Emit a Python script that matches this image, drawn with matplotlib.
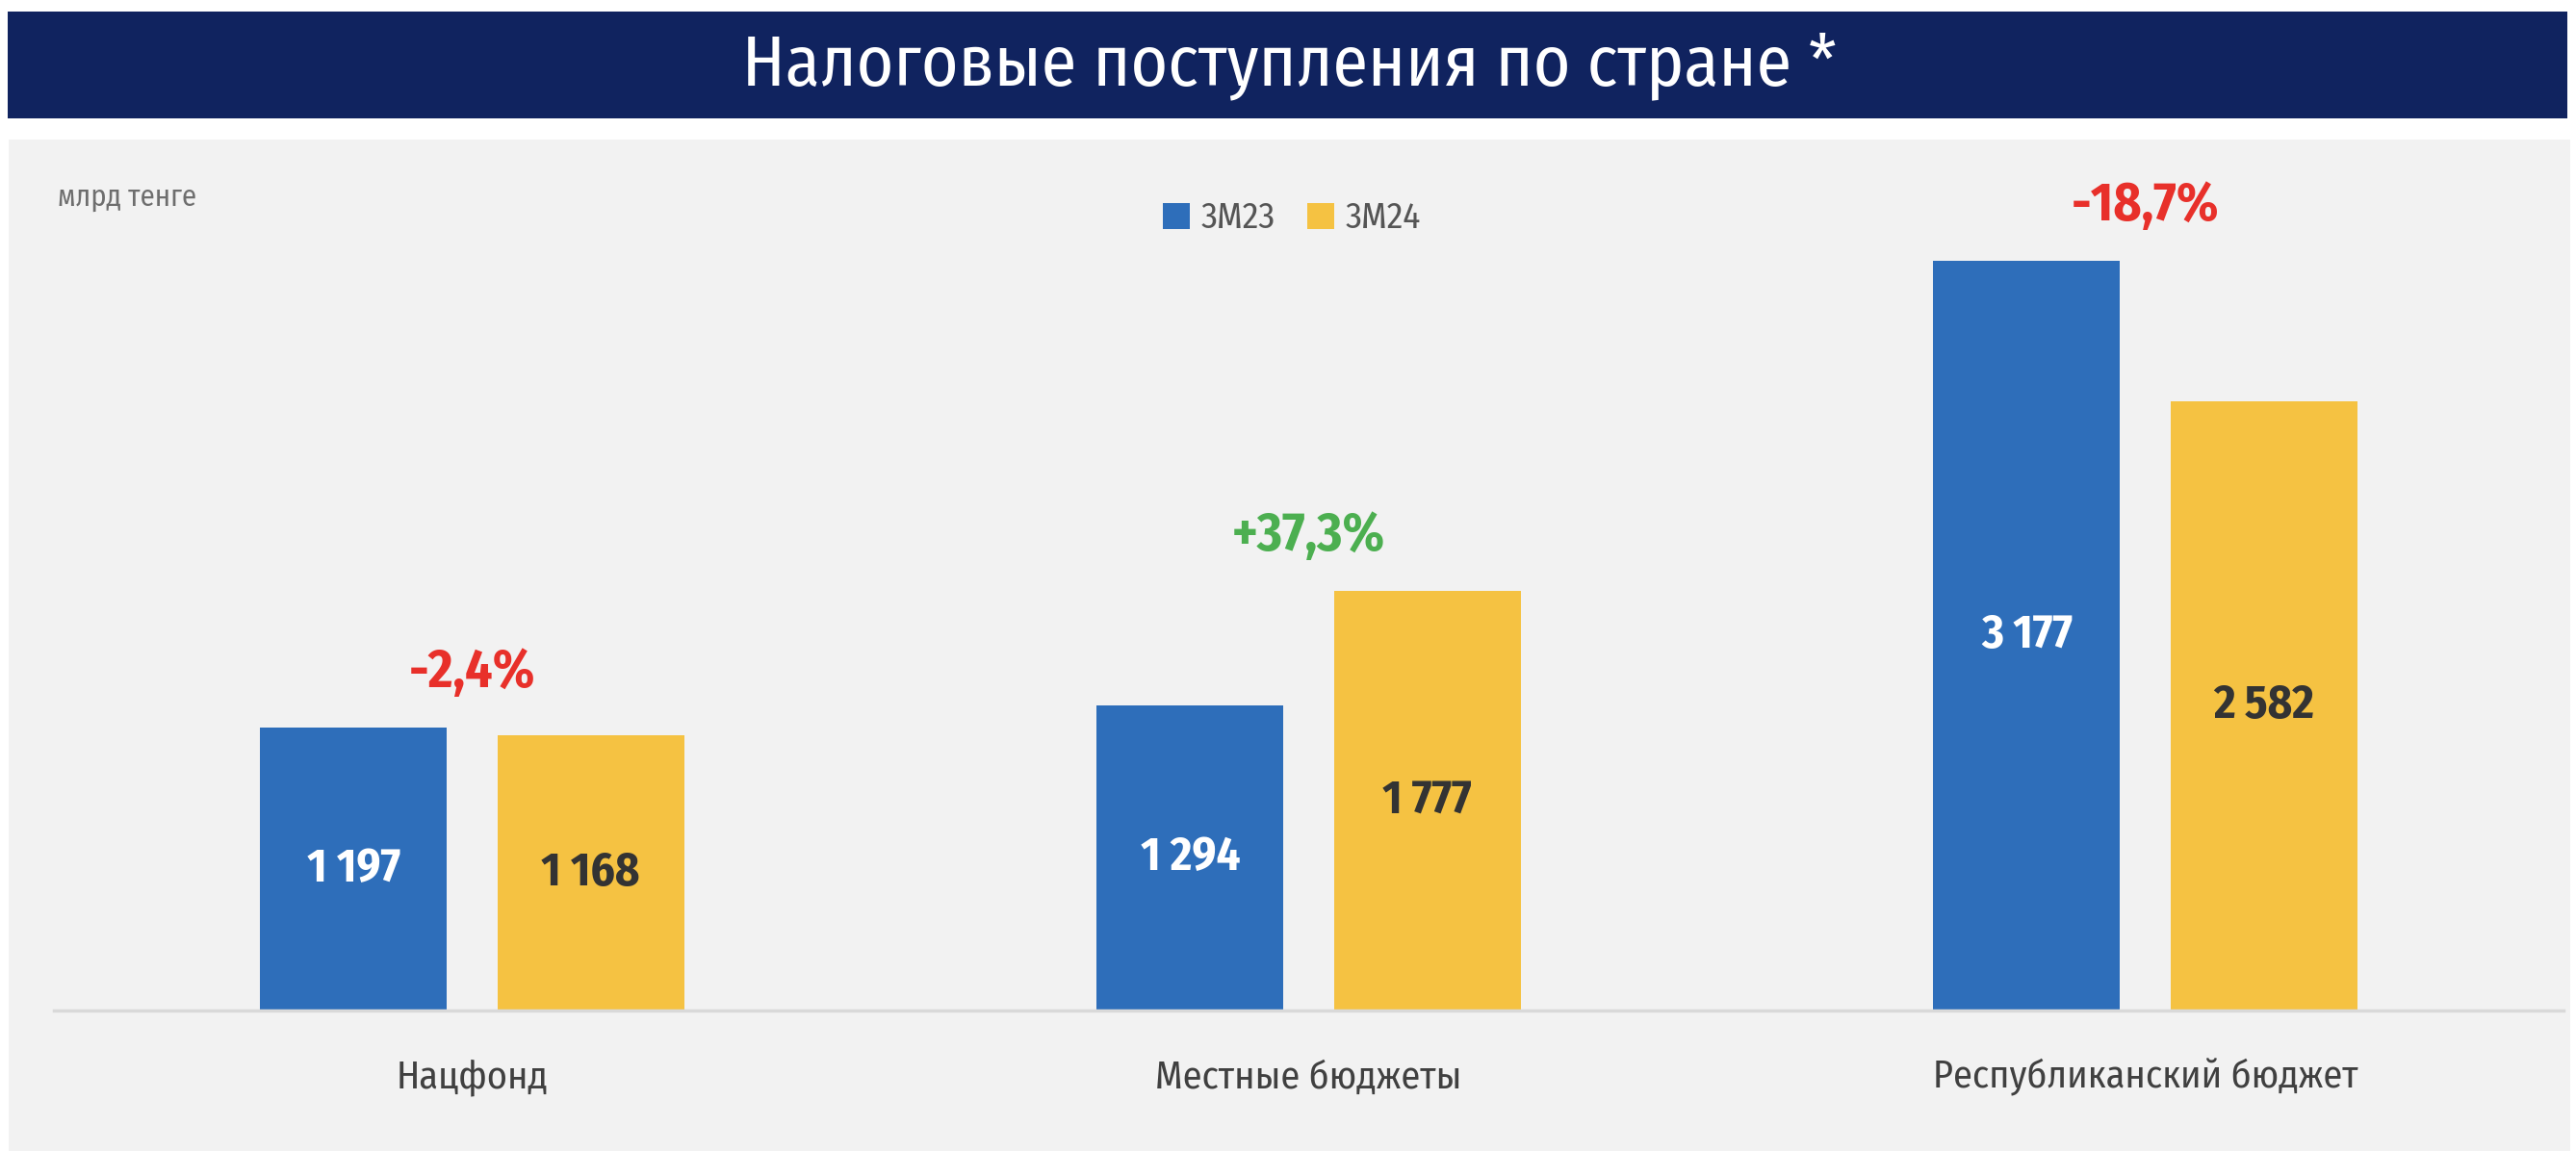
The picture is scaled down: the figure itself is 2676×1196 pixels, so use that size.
"""
Tax revenues by budget level, 3M23 vs 3M24 (bln tenge).
"""
import matplotlib
matplotlib.use('Agg')
import matplotlib.pyplot as plt
from matplotlib.patches import Rectangle
import numpy as np

plt.rcParams['font.family'] = ['Fira Sans Condensed', 'DejaVu Sans']

categories = ['Нацфонд', 'Местные бюджеты', 'Республиканский бюджет']
series_names = ['3M23', '3M24']
values_3m23 = [1197, 1294, 3177]
values_3m24 = [1168, 1777, 2582]
change_labels = ['-2,4%', '+37,3%', '-18,7%']
change_colors = ['#E8302A', '#4CAF50', '#E8302A']

title = 'Налоговые поступления по стране *'
unit_label = 'млрд тенге'

blue = '#2E6EBA'
yellow = '#F5C242'
panel_gray = '#F2F2F2'
navy = '#10235F'

W, H = 2676, 1196
fig = plt.figure(figsize=(W / 100, H / 100), dpi=100)
fig.patch.set_facecolor('white')

# background panel and title bar (below the axes)
fig.patches.append(Rectangle((9 / W, 0), 2661 / W, 1051 / H, transform=fig.transFigure,
                             facecolor=panel_gray, edgecolor='none', zorder=-2))
fig.patches.append(Rectangle((8 / W, 1 - 123 / H), 2659 / W, 111 / H, transform=fig.transFigure,
                             facecolor=navy, edgecolor='none', zorder=-2))
fig.text(0.5007, 1 - 68 / H, title, color='white', fontsize=53, ha='center', va='center')
fig.text(60 / W, 1 - 205 / H, unit_label, color='#6E6E6E', fontsize=22, ha='left', va='center')

ax = fig.add_axes([56 / W, 146 / H, 2607 / W, 870 / H])
ax.set_facecolor('none')

x = np.arange(len(categories))
width = 0.2235
offset = 0.1417
bars1 = ax.bar(x - offset, values_3m23, width, color=blue, label=series_names[0], zorder=2)
bars2 = ax.bar(x + offset, values_3m24, width, color=yellow, label=series_names[1], zorder=2)

ax.set_xlim(-0.5, 2.5)
ax.set_ylim(0, 3548)

for b, v in zip(bars1, values_3m23):
    ax.text(b.get_x() + b.get_width() / 2, v / 2, f'{v:,}'.replace(',', ' '),
            ha='center', va='center', color='white', fontsize=35, fontweight='bold')
for b, v in zip(bars2, values_3m24):
    ax.text(b.get_x() + b.get_width() / 2, v / 2, f'{v:,}'.replace(',', ' '),
            ha='center', va='center', color='#333333', fontsize=35, fontweight='bold')

for i, (lab, col) in enumerate(zip(change_labels, change_colors)):
    top = max(values_3m23[i], values_3m24[i])
    ax.annotate(lab, (x[i], top), xytext=(0, 57), textcoords='offset pixels',
                ha='center', va='center', color=col, fontsize=40, fontweight='bold')

for side in ['left', 'right', 'top']:
    ax.spines[side].set_visible(False)
ax.spines['bottom'].set_color('#D9D9D9')
ax.spines['bottom'].set_linewidth(2.5)
ax.set_yticks([])
ax.set_xticks(x)
ax.set_xticklabels(categories, fontsize=29, color='#404040')
ax.tick_params(axis='x', length=0, pad=36)

ax.legend(loc='center', bbox_to_anchor=(1342 / W, 1 - 227 / H), bbox_transform=fig.transFigure,
          ncol=2, frameon=False, fontsize=27, handlelength=0.75, handleheight=0.75,
          handletextpad=0.3, columnspacing=0.9, labelcolor='#555555')

fig.savefig('out.png', dpi=100, facecolor=fig.get_facecolor())
